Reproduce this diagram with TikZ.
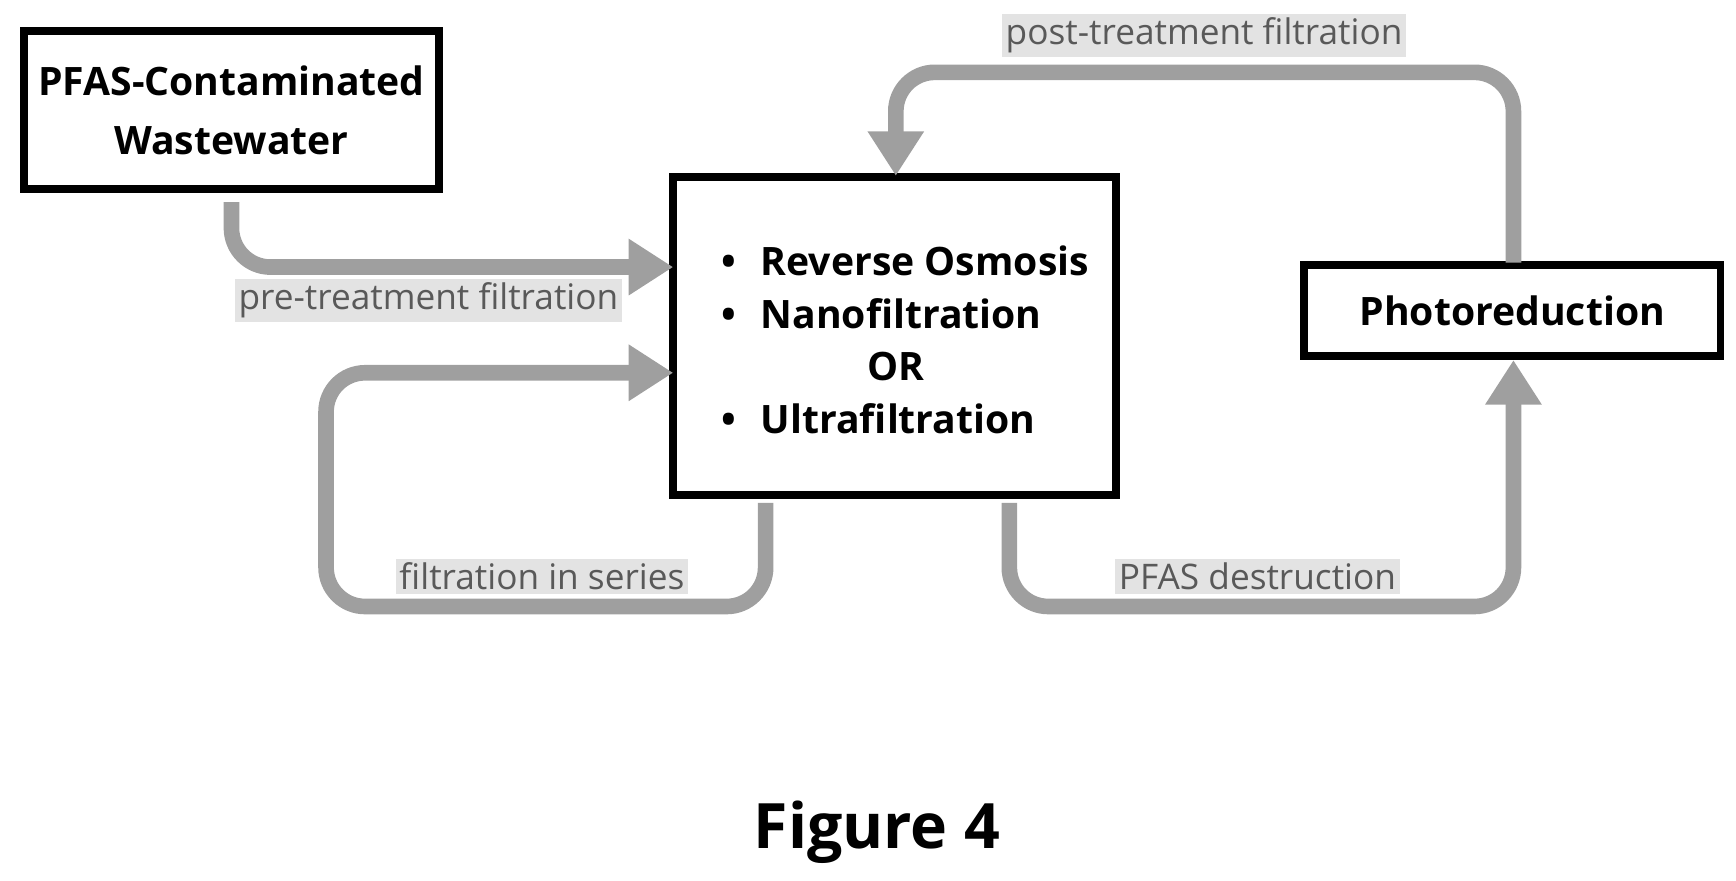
\documentclass[tikz,border=0pt]{standalone}
\usepackage{fontspec}
\setmainfont{Open Sans}
\usetikzlibrary{arrows.meta}
\begin{document}
\begin{tikzpicture}[x=0.01cm,y=-0.01cm,
    box/.style={draw, rectangle, line width=2pt, font=\bfseries\fontsize{10}{13}\selectfont, align=center, inner sep=0pt},
    item/.style={font=\bfseries\fontsize{10}{13}\selectfont, anchor=west},
    flow/.style={line width=4pt, draw=gray!75, rounded corners=0.35cm, -{Triangle[length=0.4cm,width=0.48cm]}},
    lbl/.style={fill=gray!22, text=black!65, font=\fontsize{9}{11}\selectfont, inner sep=1pt}
]
    \useasboundingbox (0,0) rectangle (1560,791);

    % boxes
    \node[box, minimum width=3.73cm, minimum height=1.42cm] (waste) at (208,99) {PFAS-Contaminated\\[2pt]Wastewater};
    \node[box, minimum width=3.98cm, minimum height=2.85cm] (memb) at (804,302) {};
    \node[box, minimum width=3.74cm, minimum height=0.82cm] (photo) at (1359,279) {Photoreduction};

    % list inside the membrane box
    \node[item] (ro) at (636,234) {\textbullet\hspace{0.22cm}Reverse Osmosis};
    \node[item] (nf) at (636,282) {\textbullet\hspace{0.22cm}Nanofiltration};
    \node[item, anchor=center] (or) at (805,329) {OR};
    \node[item] (uf) at (636,376) {\textbullet\hspace{0.22cm}Ultrafiltration};

    % bend points
    \coordinate (preIn) at (605,240);
    \coordinate (serIn) at (605,335);
    \coordinate (serOut) at (688,452);
    \coordinate (desOut) at (907,452);
    \coordinate (postOut) at (1360,236);
    \coordinate (postIn) at (805,158);

    % flows
    \draw[flow] (waste.south -| 208,0) ++(0,8) |- (preIn);
    \draw[flow] (serOut) -- (688,545) -- (293,545) -- (293,335) -- (serIn);
    \draw[flow] (desOut) -- (907,545) -- (1360,545) -- (photo.south -| 1360,0);
    \draw[flow] (postOut) -- (1360,65) -- (805,65) -- (postIn);

    % labels
    \node[lbl] (pre) at (385,270) {pre-treatment filtration};
    \node[lbl] (ser) at (487,518) {filtration in series};
    \node[lbl] (des) at (1130,518) {PFAS destruction};
    \node[lbl] (post) at (1082,32) {post-treatment filtration};

    \node[font=\bfseries\fontsize{16}{19}\selectfont] (fig) at (788,748) {Figure 4};
\end{tikzpicture}
\end{document}
